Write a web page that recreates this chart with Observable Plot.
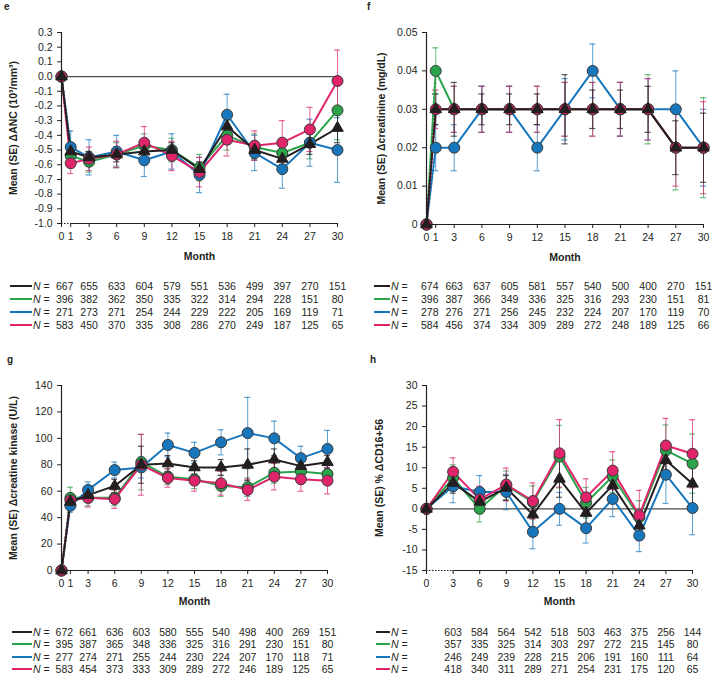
<!DOCTYPE html>
<html><head><meta charset="utf-8">
<script src="https://cdn.jsdelivr.net/npm/d3@7"></script>
<script src="https://cdn.jsdelivr.net/npm/@observablehq/plot@0.6"></script>
<style>
body{margin:0;background:#fff;font-family:"Liberation Sans",Arial,Helvetica,sans-serif;color:#231f20;}
#wrap{position:relative;width:712px;height:675px;overflow:hidden;}
.letter{position:absolute;font-weight:bold;font-size:10px;}
.key{position:absolute;font-size:10.5px;height:12px;line-height:12px;white-space:nowrap;}
.key .sw{position:absolute;top:5px;height:2px;}
.key .nl{position:absolute;top:0;}
</style></head>
<body><div id="wrap"></div>
<script>
// ---------- data ----------
const monthsEFG = [0, 1, 3, 6, 9, 12, 15, 18, 21, 24, 27, 30];
const monthsH = [0, 3, 6, 9, 12, 15, 18, 21, 24, 27, 30];
const ticksEFG = [0, 1, 3, 6, 9, 12, 15, 18, 21, 24, 27, 30];
const ticksH = [0, 3, 6, 9, 12, 15, 18, 21, 24, 27, 30];

const seriesKeys = ["black", "green", "blue", "pink"];
const seriesColors = { black: "#231f20", green: "#2ba34a", blue: "#1877bc", pink: "#e0246c" };

// e: ANC
const ancBlack = [0, -0.51, -0.55, -0.53, -0.51, -0.50, -0.63, -0.34, -0.50, -0.56, -0.46, -0.35];
const ancGreen = [0, -0.54, -0.58, -0.53, -0.47, -0.50, -0.62, -0.40, -0.48, -0.52, -0.45, -0.23];
const ancBlue  = [0, -0.48, -0.55, -0.51, -0.57, -0.51, -0.67, -0.26, -0.52, -0.63, -0.45, -0.50];
const ancPink  = [0, -0.59, -0.56, -0.53, -0.45, -0.54, -0.65, -0.43, -0.47, -0.45, -0.36, -0.03];
const ancSeBlack = [0, 0.04, 0.04, 0.05, 0.05, 0.05, 0.05, 0.06, 0.06, 0.06, 0.07, 0.10];
const ancSeGreen = [0, 0.07, 0.07, 0.08, 0.08, 0.08, 0.09, 0.10, 0.09, 0.10, 0.11, 0.20];
const ancSeBlue  = [0, 0.11, 0.12, 0.11, 0.11, 0.12, 0.12, 0.14, 0.12, 0.13, 0.16, 0.22];
const ancSePink  = [0, 0.07, 0.08, 0.09, 0.11, 0.10, 0.10, 0.11, 0.10, 0.15, 0.15, 0.21];
const ancNBlack = [667, 655, 633, 604, 579, 551, 536, 499, 397, 270, 151];
const ancNGreen = [396, 382, 362, 350, 335, 322, 314, 294, 228, 151, 80];
const ancNBlue  = [271, 273, 271, 254, 244, 229, 222, 205, 169, 119, 71];
const ancNPink  = [583, 450, 370, 335, 308, 286, 270, 249, 187, 125, 65];
const ancYTicks = [0.3, 0.2, 0.1, 0, -0.1, -0.2, -0.3, -0.4, -0.5, -0.6, -0.7, -0.8, -0.9, -1.0];

// f: creatinine
const crBlack = [0, 0.03, 0.03, 0.03, 0.03, 0.03, 0.03, 0.03, 0.03, 0.03, 0.02, 0.02];
const crGreen = [0, 0.04, 0.03, 0.03, 0.03, 0.03, 0.03, 0.03, 0.03, 0.03, 0.02, 0.02];
const crBlue  = [0, 0.02, 0.02, 0.03, 0.03, 0.02, 0.03, 0.04, 0.03, 0.03, 0.03, 0.02];
const crPink  = [0, 0.03, 0.03, 0.03, 0.03, 0.03, 0.03, 0.03, 0.03, 0.03, 0.02, 0.02];
const crSeBlack = [0, 0.004, 0.007, 0.004, 0.004, 0.004, 0.009, 0.005, 0.005, 0.006, 0.007, 0.009];
const crSeGreen = [0, 0.006, 0.006, 0.006, 0.006, 0.006, 0.007, 0.007, 0.007, 0.009, 0.011, 0.013];
const crSeBlue  = [0, 0.006, 0.006, 0.006, 0.006, 0.006, 0.008, 0.007, 0.007, 0.008, 0.010, 0.010];
const crSePink  = [0, 0.005, 0.006, 0.006, 0.006, 0.006, 0.007, 0.007, 0.007, 0.008, 0.010, 0.012];
const crNBlack = [674, 663, 637, 605, 581, 557, 540, 500, 400, 270, 151];
const crNGreen = [396, 387, 366, 349, 336, 325, 316, 293, 230, 151, 81];
const crNBlue  = [278, 276, 271, 256, 245, 232, 224, 207, 170, 119, 70];
const crNPink  = [584, 456, 374, 334, 309, 289, 272, 248, 189, 125, 66];
const crYTicks = [0, 0.01, 0.02, 0.03, 0.04, 0.05];

// g: creatine kinase
const ckBlack = [0, 52, 57, 64, 80, 81, 78, 78, 80, 84, 79, 82];
const ckGreen = [0, 55, 55, 55, 82, 71, 69, 64, 63, 74, 75, 73];
const ckBlue  = [0, 49, 61, 76, 78, 95, 89, 97, 104, 100, 85, 92];
const ckPink  = [0, 53, 55, 54, 80, 70, 68, 66, 61, 71, 69, 68];
const ckSeBlack = [0, 4, 4, 5, 14, 6, 5, 6, 12, 8, 5, 5];
const ckSeGreen = [0, 8, 6, 6, 21, 6, 7, 8, 7, 8, 8, 8];
const ckSeBlue  = [0, 5, 6, 6, 8, 9, 8, 9.5, 27, 13, 9, 14];
const ckSePink  = [0, 5, 7, 7, 23, 7, 8, 9, 8, 10, 9, 10];
const ckNBlack = [672, 661, 636, 603, 580, 555, 540, 498, 400, 269, 151];
const ckNGreen = [395, 387, 365, 348, 336, 325, 316, 291, 230, 151, 80];
const ckNBlue  = [277, 274, 271, 255, 244, 230, 224, 207, 170, 118, 71];
const ckNPink  = [583, 454, 373, 333, 309, 289, 272, 246, 189, 125, 65];
const ckYTicks = [0, 20, 40, 60, 80, 100, 120, 140];

// h: % CD16+56
const cdBlack = [0, 6.3, 1.7, 5.1, -1.4, 7.3, -1.0, 5.7, -4.1, 11.8, 6.1];
const cdGreen = [0, 7.5, 0.0, 5.7, 1.6, 12.7, 1.5, 7.9, -2.0, 14.2, 11.0];
const cdBlue  = [0, 5.5, 4.1, 4.1, -5.6, 0.0, -4.7, 2.4, -6.5, 8.3, 0.2];
const cdPink  = [0, 9.0, 2.3, 5.9, 1.9, 13.5, 2.8, 9.3, -1.6, 15.4, 13.4];
const cdSeBlack = [0, 2.5, 2.5, 3, 3, 4.5, 3, 3, 3, 4.5, 5];
const cdSeGreen = [0, 3.2, 3.2, 3.5, 4, 7.6, 3.7, 4, 4, 6.2, 7.2];
const cdSeBlue  = [0, 4, 4, 4.3, 4.1, 4, 3.6, 4.3, 3.9, 7, 6.5];
const cdSePink  = [0, 3.4, 3.2, 4, 4.4, 8.2, 4.5, 4.6, 6.1, 6.6, 8.3];
const cdNBlack = [603, 584, 564, 542, 518, 503, 463, 375, 256, 144];
const cdNGreen = [357, 335, 325, 314, 303, 297, 272, 215, 145, 80];
const cdNBlue  = [246, 249, 239, 228, 215, 206, 191, 160, 111, 64];
const cdNPink  = [418, 340, 311, 289, 271, 254, 231, 175, 120, 65];
const cdYTicks = [-15, -10, -5, 0, 5, 10, 15, 20, 25, 30];

// ---------- drawing ----------
const FONT = '"Liberation Sans", Arial, Helvetica, sans-serif';
const wrap = document.getElementById("wrap");

function panel(cfg) {
  const vals = { black: cfg.values[0], green: cfg.values[1], blue: cfg.values[2], pink: cfg.values[3] };
  const ses = { black: cfg.se[0], green: cfg.se[1], blue: cfg.se[2], pink: cfg.se[3] };
  const Ns = { black: cfg.N[0], green: cfg.N[1], blue: cfg.N[2], pink: cfg.N[3] };
  const rowsOf = k => cfg.months.map((m, i) => ({ m, v: vals[k][i], e: ses[k][i] }));
  const y0 = cfg.yDomain[0];
  const marks = [];
  if (cfg.zeroLine) marks.push(Plot.ruleY([0], { x1: 0, x2: 30, stroke: "#4a4a4a", strokeWidth: 1.3 }));
  const order = ["green", "blue", "pink", "black"];
  // error bars
  for (const k of order) {
    const r = rowsOf(k).filter(d => d.e > 0);
    const c = seriesColors[k];
    const so = k === "black" ? 0.75 : 0.7;
    marks.push(Plot.ruleX(r, { x: "m", y1: d => d.v - d.e, y2: d => d.v + d.e, stroke: c, strokeOpacity: so, strokeWidth: 1 }));
    marks.push(Plot.ruleY(r, { y: d => d.v + d.e, x1: d => d.m - 0.33, x2: d => d.m + 0.33, stroke: c, strokeOpacity: so, strokeWidth: 1.2 }));
    marks.push(Plot.ruleY(r, { y: d => d.v - d.e, x1: d => d.m - 0.33, x2: d => d.m + 0.33, stroke: c, strokeOpacity: so, strokeWidth: 1.2 }));
  }
  // lines
  for (const k of order) {
    const r = rowsOf(k);
    const c = seriesColors[k];
    marks.push(Plot.line(r.slice(0, 2), { x: "m", y: "v", stroke: c, strokeWidth: 2, strokeDasharray: "2,1.6" }));
    marks.push(Plot.line(r.slice(1), { x: "m", y: "v", stroke: c, strokeWidth: 2 }));
  }
  // markers
  for (const k of order) {
    const r = rowsOf(k);
    if (k === "black") {
      marks.push(Plot.dot(r, { x: "m", y: "v", symbol: "triangle", r: 4.3, fill: "#231f20", stroke: "#231f20", strokeWidth: 1 }));
    } else {
      marks.push(Plot.dot(r, { x: "m", y: "v", r: 5.5, fill: seriesColors[k], stroke: "#3a3a3a", strokeWidth: 1 }));
    }
  }
  // axes
  marks.push(Plot.ruleX([0], { stroke: "#231f20", strokeWidth: 1.2 }));
  if (cfg.brk > 0) {
    marks.push(Plot.ruleY([y0], { x1: 0, x2: cfg.brk, stroke: "#231f20", strokeWidth: 1.2, strokeDasharray: "1.5,1.5" }));
  }
  marks.push(Plot.ruleY([y0], { x1: cfg.brk, x2: 30, stroke: "#231f20", strokeWidth: 1.2 }));
  marks.push(Plot.axisY({ ticks: cfg.yTicks, tickFormat: cfg.yFmt, tickSize: 4, label: null, stroke: "#231f20" }));
  marks.push(Plot.axisX({ ticks: cfg.xTicks, tickFormat: d => String(d), tickSize: 4, label: null, stroke: "#231f20" }));
  marks.push(Plot.text(["Month"], { frameAnchor: "bottom", lineAnchor: "middle", dy: cfg.monthDy, fontWeight: "bold", fontSize: 10.5 }));
  marks.push(Plot.text([cfg.yLabel], { frameAnchor: "left", textAnchor: "middle", lineAnchor: "middle", rotate: -90, dx: cfg.yLabelDx, fontWeight: "bold", fontSize: 10.5 }));
  // N table
  const tMonths = cfg.months.slice(1);
  seriesKeys.forEach((k, ri) => {
    const t = tMonths.map((m, i) => ({ m, n: Ns[k][i] }));
    const common = { x: "m", text: d => String(d.n), frameAnchor: "bottom", lineAnchor: "middle", textAnchor: "middle", dy: cfg.rowDy[ri], fontSize: 10.5 };
    if (cfg.firstDx) {
      marks.push(Plot.text(t.slice(0, 1), { ...common, dx: cfg.firstDx }));
      marks.push(Plot.text(t.slice(1), common));
    } else {
      marks.push(Plot.text(t, common));
    }
  });

  const svg = Plot.plot({
    width: cfg.width, height: cfg.height,
    marginTop: cfg.mt, marginBottom: cfg.mb, marginLeft: cfg.ml, marginRight: cfg.mr,
    x: { domain: [0, 30] },
    y: { domain: cfg.yDomain },
    style: { fontFamily: FONT, fontSize: "10.5px", color: "#231f20", background: "transparent", overflow: "visible" },
    marks
  });
  svg.style.position = "absolute";
  svg.style.left = cfg.left + "px";
  svg.style.top = cfg.top + "px";
  wrap.appendChild(svg);

  // panel letter
  const L = document.createElement("div");
  L.className = "letter";
  L.textContent = cfg.letter;
  L.style.left = cfg.letterPos[0] + "px";
  L.style.top = cfg.letterPos[1] + "px";
  wrap.appendChild(L);

  // key swatches
  seriesKeys.forEach((k, ri) => {
    const d = document.createElement("div");
    d.className = "key";
    d.style.left = cfg.keyX + "px";
    d.style.top = (cfg.top + cfg.height - cfg.mb + cfg.rowDy[ri] - 6) + "px";
    d.innerHTML = `<span class="sw" style="left:0;width:${cfg.swW}px;background:${seriesColors[k]}"></span>` +
      `<span class="nl" style="left:${cfg.swW + 1}px"><i>N</i> =</span>`;
    wrap.appendChild(d);
  });
}

const f1 = d => d.toFixed(1);
const f2 = d => d === 0 ? "0" : d.toFixed(2);
const f0 = d => String(d);

panel({
  letter: "e", letterPos: [4, 1],
  left: 0, top: 0, width: 356, height: 340, mt: 32, mb: 117, ml: 61, mr: 19,
  months: monthsEFG, xTicks: ticksEFG,
  values: [ancBlack, ancGreen, ancBlue, ancPink], se: [ancSeBlack, ancSeGreen, ancSeBlue, ancSePink],
  N: [ancNBlack, ancNGreen, ancNBlue, ancNPink],
  yDomain: [-1.0, 0.3], yTicks: ancYTicks, yFmt: f1, zeroLine: true, brk: 1,
  yLabel: "Mean (SE) \u0394ANC (10\u00b3/mm\u00b3)", yLabelDx: -48,
  monthDy: 33, rowDy: [63, 76, 89, 102], firstDx: -6, keyX: 10, swW: 22
});

panel({
  letter: "f", letterPos: [367, 1],
  left: 356, top: 0, width: 356, height: 340, mt: 32, mb: 116, ml: 70, mr: 9,
  months: monthsEFG, xTicks: ticksEFG,
  values: [crBlack, crGreen, crBlue, crPink], se: [crSeBlack, crSeGreen, crSeBlue, crSePink],
  N: [crNBlack, crNGreen, crNBlue, crNPink],
  yDomain: [0, 0.05], yTicks: crYTicks, yFmt: f2, zeroLine: false, brk: 0,
  yLabel: "Mean (SE) \u0394creatinine (mg/dL)", yLabelDx: -45,
  monthDy: 33, rowDy: [62, 75, 88, 101], firstDx: -6, keyX: 374, swW: 16
});

panel({
  letter: "g", letterPos: [7, 354],
  left: 0, top: 340, width: 356, height: 335, mt: 45, mb: 105, ml: 61, mr: 29,
  months: monthsEFG, xTicks: ticksEFG,
  values: [ckBlack, ckGreen, ckBlue, ckPink], se: [ckSeBlack, ckSeGreen, ckSeBlue, ckSePink],
  N: [ckNBlack, ckNGreen, ckNBlue, ckNPink],
  yDomain: [0, 140], yTicks: ckYTicks, yFmt: f0, zeroLine: false, brk: 0,
  yLabel: "Mean (SE) \u0394creatine kinase (U/L)", yLabelDx: -48,
  monthDy: 31, rowDy: [62, 74, 87, 99], firstDx: -6, keyX: 12, swW: 20
});

panel({
  letter: "h", letterPos: [370, 354],
  left: 356, top: 340, width: 356, height: 335, mt: 45, mb: 105, ml: 70, mr: 20,
  months: monthsH, xTicks: ticksH,
  values: [cdBlack, cdGreen, cdBlue, cdPink], se: [cdSeBlack, cdSeGreen, cdSeBlue, cdSePink],
  N: [cdNBlack, cdNGreen, cdNBlue, cdNPink],
  yDomain: [-15, 30], yTicks: cdYTicks, yFmt: f0, zeroLine: true, brk: 3,
  yLabel: "Mean (SE) % \u0394CD16+56", yLabelDx: -47,
  monthDy: 31, rowDy: [62, 74, 87, 99], firstDx: 0, keyX: 376, swW: 14
});
</script>
</body></html>
